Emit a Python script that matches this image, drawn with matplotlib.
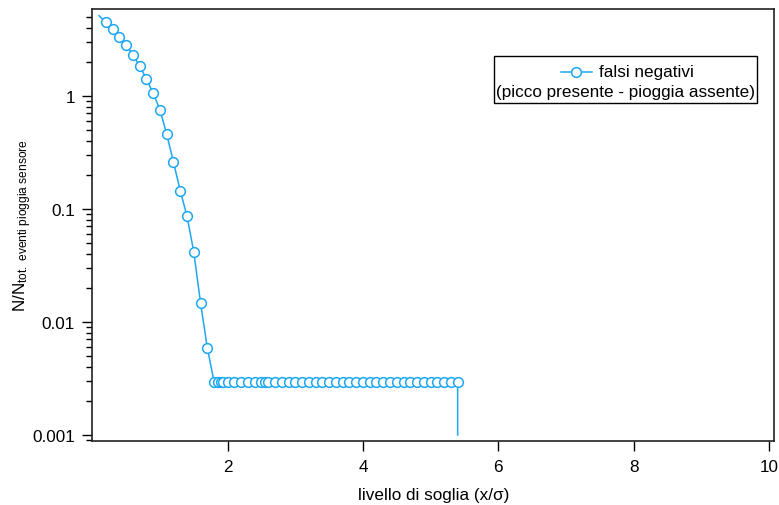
import numpy as np
import matplotlib
matplotlib.use("Agg")
import matplotlib.pyplot as plt
from matplotlib.lines import Line2D
from matplotlib.ticker import FixedLocator, FuncFormatter, LogLocator, NullFormatter

plt.rcParams['font.family'] = ['Liberation Sans', 'DejaVu Sans']
plt.rcParams['mathtext.fontset'] = 'custom'
plt.rcParams['mathtext.rm'] = 'Liberation Sans'
plt.rcParams['mathtext.it'] = 'Liberation Sans:italic'

# ---- data ----
soglia = [0.1, 0.2, 0.3, 0.4, 0.5, 0.6, 0.7, 0.8, 0.9, 1.0,
          1.1, 1.2, 1.3, 1.4, 1.5, 1.6, 1.7,
          1.8, 1.86, 1.9, 1.93, 2.0, 2.1, 2.2, 2.3, 2.4, 2.5, 2.55, 2.6, 2.7, 2.8, 2.9,
          3.0, 3.1, 3.2, 3.3, 3.4, 3.5, 3.6, 3.7, 3.8, 3.9,
          4.0, 4.1, 4.2, 4.3, 4.4, 4.5, 4.6, 4.7, 4.8, 4.9,
          5.0, 5.1, 5.2, 5.3, 5.4, 5.4]
falsi_negativi = [5.1, 4.46, 3.89, 3.32, 2.79, 2.30, 1.84, 1.40, 1.05, 0.752,
                  0.456, 0.258, 0.1445, 0.0859, 0.0415, 0.0147, 0.00591] + \
                 [0.00296] * 40 + [0.001]
xticks = [2, 4, 6, 8, 10]
yticks = [0.001, 0.01, 0.1, 1]
color = '#1EA7F2'
msize = 7

fig = plt.figure(figsize=(7.79, 5.06), dpi=100)
ax = fig.add_axes([92.3 / 779, 1 - 441.5 / 506, (774.3 - 92.3) / 779, (441.5 - 10.3) / 506])

n = len(soglia)
ax.plot(soglia, falsi_negativi, color=color, lw=1.1, marker='o', markersize=msize,
        markerfacecolor='white', markeredgecolor=color, markeredgewidth=1.1,
        markevery=list(range(1, n - 1)))

ax.set_yscale('log')
ax.set_xlim(0, 10.08)
ax.set_ylim(0.000894, 5.81)

ax.xaxis.set_major_locator(FixedLocator(xticks))
ax.xaxis.set_major_formatter(FuncFormatter(lambda v, p: '%g' % v))
ax.yaxis.set_major_locator(FixedLocator(yticks))
ax.yaxis.set_major_formatter(FuncFormatter(lambda v, p: '%g' % v))
ax.yaxis.set_minor_locator(LogLocator(base=10, subs=np.arange(2, 10)))
ax.yaxis.set_minor_formatter(NullFormatter())

ax.tick_params(axis='both', which='major', direction='out', length=7.5, width=1.0,
               labelsize=12.3, colors='black')
ax.tick_params(axis='x', which='major', pad=5.5)
ax.tick_params(axis='y', which='major', pad=5)
ax.tick_params(axis='y', which='minor', direction='out', length=4.5, width=1.0)
for s in ax.spines.values():
    s.set_linewidth(1.2)
    s.set_color('#222222')

ax.set_xlabel('livello di soglia (x/σ)', fontsize=12.3, labelpad=10)
ax.set_ylabel(r'N/N$_{\mathrm{tot.\ eventi\ pioggia\ sensore}}$', fontsize=12.3, labelpad=-1.5)

# legend box (manual, handle on first line, text centered)
bx0, bx1 = 494 / 779, 757 / 779
by0, by1 = 1 - 103.5 / 506, 1 - 56.5 / 506
fig.patches.append(plt.Rectangle((bx0, by0), bx1 - bx0, by1 - by0, transform=fig.transFigure,
                                 facecolor='white', edgecolor='black', lw=1.0, zorder=5))
fig.add_artist(Line2D([560.7 / 779, 591.7 / 779], [1 - 72.5 / 506] * 2, transform=fig.transFigure,
                      color=color, lw=1.1, zorder=6))
fig.add_artist(Line2D([576 / 779], [1 - 72.5 / 506], transform=fig.transFigure,
                      color=color, lw=0, marker='o', markersize=msize,
                      markerfacecolor='white', markeredgecolor=color, markeredgewidth=1.1, zorder=7))
fig.text(599 / 779, 1 - 72.5 / 506, 'falsi negativi', fontsize=12.3, ha='left', va='center', zorder=8)
fig.text((bx0 + bx1) / 2, 1 - 93 / 506, '(picco presente - pioggia assente)', fontsize=12.3,
         ha='center', va='center', zorder=8)

fig.savefig('out.png', dpi=100)
